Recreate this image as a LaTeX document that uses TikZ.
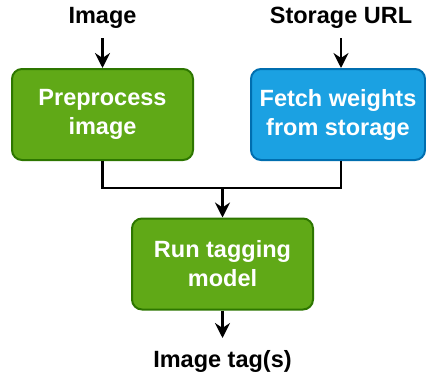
\documentclass[tikz,border=0pt]{standalone}
\usepackage{fontspec}
\setmainfont{Liberation Sans}
\usetikzlibrary{arrows.meta}
\definecolor{greenfill}{HTML}{60A917}
\definecolor{greenline}{HTML}{2D7600}
\definecolor{bluefill}{HTML}{1BA1E2}
\definecolor{blueline}{HTML}{006EAF}
\tikzset{
  stepbox/.style={draw, line width=2pt, rounded corners=10pt,
    minimum height=91pt, align=center, text=white, font=\fontsize{23.5}{29}\selectfont\bfseries,
    inner sep=0pt},
  greenbox/.style={stepbox, minimum width=181pt, fill=greenfill, draw=greenline},
  bluebox/.style={stepbox, minimum width=174pt, fill=bluefill, draw=blueline},
  lbl/.style={font=\fontsize{23.5}{28}\selectfont\bfseries, inner sep=0pt},
  conn/.style={line width=2.5pt, -{Stealth[length=15pt,width=15pt,inset=5pt]}},
}
\begin{document}
\begin{tikzpicture}[x=1pt,y=-1pt]
  \useasboundingbox (0,0) rectangle (426,378);
  \node[greenbox] (pre) at (102.5,114.5) {Preprocess\\image};
  \node[bluebox] (fetch) at (338,114.5) {Fetch weights\\from storage};
  \node[greenbox] (run) at (222.5,264) {Run tagging\\model};
  \node[lbl] (img) at (102.5,18) {Image};
  \node[lbl] (url) at (341,18) {Storage URL};
  \node[lbl] (tags) at (222.5,361) {Image tag(s)};
  \coordinate (join) at (222.5,188);
  \coordinate (out) at (222.5,338);
  \draw[conn] (img.south |- 0,38) -- (pre.north -| img.south);
  \draw[conn] (url.south |- 0,38) -- (fetch.north -| url.south);
  \draw[line width=2.5pt] (pre.south) |- (join) -| (fetch.south -| url.south);
  \draw[conn] (join) -- (run.north);
  \draw[conn] (run.south) -- (out);
\end{tikzpicture}
\end{document}
